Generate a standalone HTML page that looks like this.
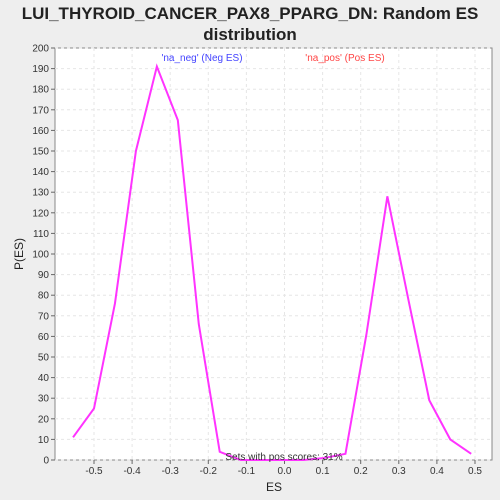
<!DOCTYPE html>
<html><head><meta charset="utf-8"><style>
html,body{margin:0;padding:0;background:#eeeeee;font-family:"Liberation Sans",sans-serif;overflow:hidden;}
svg{display:block;}
</style></head><body>
<svg width="500" height="500" xmlns="http://www.w3.org/2000/svg">
<rect width="500" height="500" fill="#eeeeee"/>
<text x="250" y="19" text-anchor="middle" font-size="17" font-weight="bold" fill="#222">LUI_THYROID_CANCER_PAX8_PPARG_DN: Random ES</text>
<text x="250" y="40" text-anchor="middle" font-size="17" font-weight="bold" fill="#222">distribution</text>
<rect x="55" y="48" width="437" height="412" fill="#fff" stroke="#888"/>
<g id="grid"></g><g id="axes"></g>
<polyline id="line" fill="none" stroke="#ff33ff" stroke-width="2"/>
<text x="202" y="61" text-anchor="middle" font-size="10" fill="#4444ff">'na_neg' (Neg ES)</text>
<text x="345" y="61" text-anchor="middle" font-size="10" fill="#ff4444">'na_pos' (Pos ES)</text>
<text x="284" y="460" text-anchor="middle" font-size="10" fill="#333">Sets with pos scores: 31%</text>
<text x="274" y="491" text-anchor="middle" font-size="12" fill="#222">ES</text>
<text x="23" y="254" text-anchor="middle" font-size="12" fill="#222" transform="rotate(-90 23 254)">P(ES)</text>
</svg>
<script>
const xVals=[-0.555,-0.5,-0.445,-0.39,-0.335,-0.28,-0.225,-0.17,-0.115,-0.06,-0.005,0.05,0.105,0.16,0.215,0.27,0.325,0.38,0.435,0.49];
const yVals=[11,25,76,150,191,165,66,4,0,0,0,0,1,3,61,128,78,29,10,3];
const xTicks=[-0.5,-0.4,-0.3,-0.2,-0.1,0,0.1,0.2,0.3,0.4,0.5];
const yTicks=[0,10,20,30,40,50,60,70,80,90,100,110,120,130,140,150,160,170,180,190,200];
const X=v=>284.5+v*381, Y=v=>460-v*2.06;
const ns="http://www.w3.org/2000/svg";
const grid=document.getElementById('grid'),axes=document.getElementById('axes');
function mk(t,a,p){const e=document.createElementNS(ns,t);for(const k in a)e.setAttribute(k,a[k]);p.appendChild(e);return e;}
yTicks.forEach(v=>{const y=Y(v);
const g=mk('line',{x1:55,x2:492,y1:y,y2:y,stroke:'#e6e6e6','stroke-dasharray':'3,3'},grid);


mk('line',{x1:51,x2:55,y1:y,y2:y,stroke:'#666'},axes);
const t=mk('text',{x:49,y:y+3.5,'text-anchor':'end','font-size':10,fill:'#333'},axes);t.textContent=v;

});
xTicks.forEach(v=>{const x=X(v);
const g=mk('line',{x1:x,x2:x,y1:48,y2:460,stroke:'#e6e6e6','stroke-dasharray':'3,3'},grid);


mk('line',{x1:x,x2:x,y1:460,y2:464,stroke:'#666'},axes);
const t=mk('text',{x:x,y:474,'text-anchor':'middle','font-size':10,fill:'#333'},axes);t.textContent=v.toFixed(1);

});
document.getElementById('line').setAttribute('points',xVals.map((v,i)=>X(v)+','+Y(yVals[i])).join(' '));
</script>
</body></html>
